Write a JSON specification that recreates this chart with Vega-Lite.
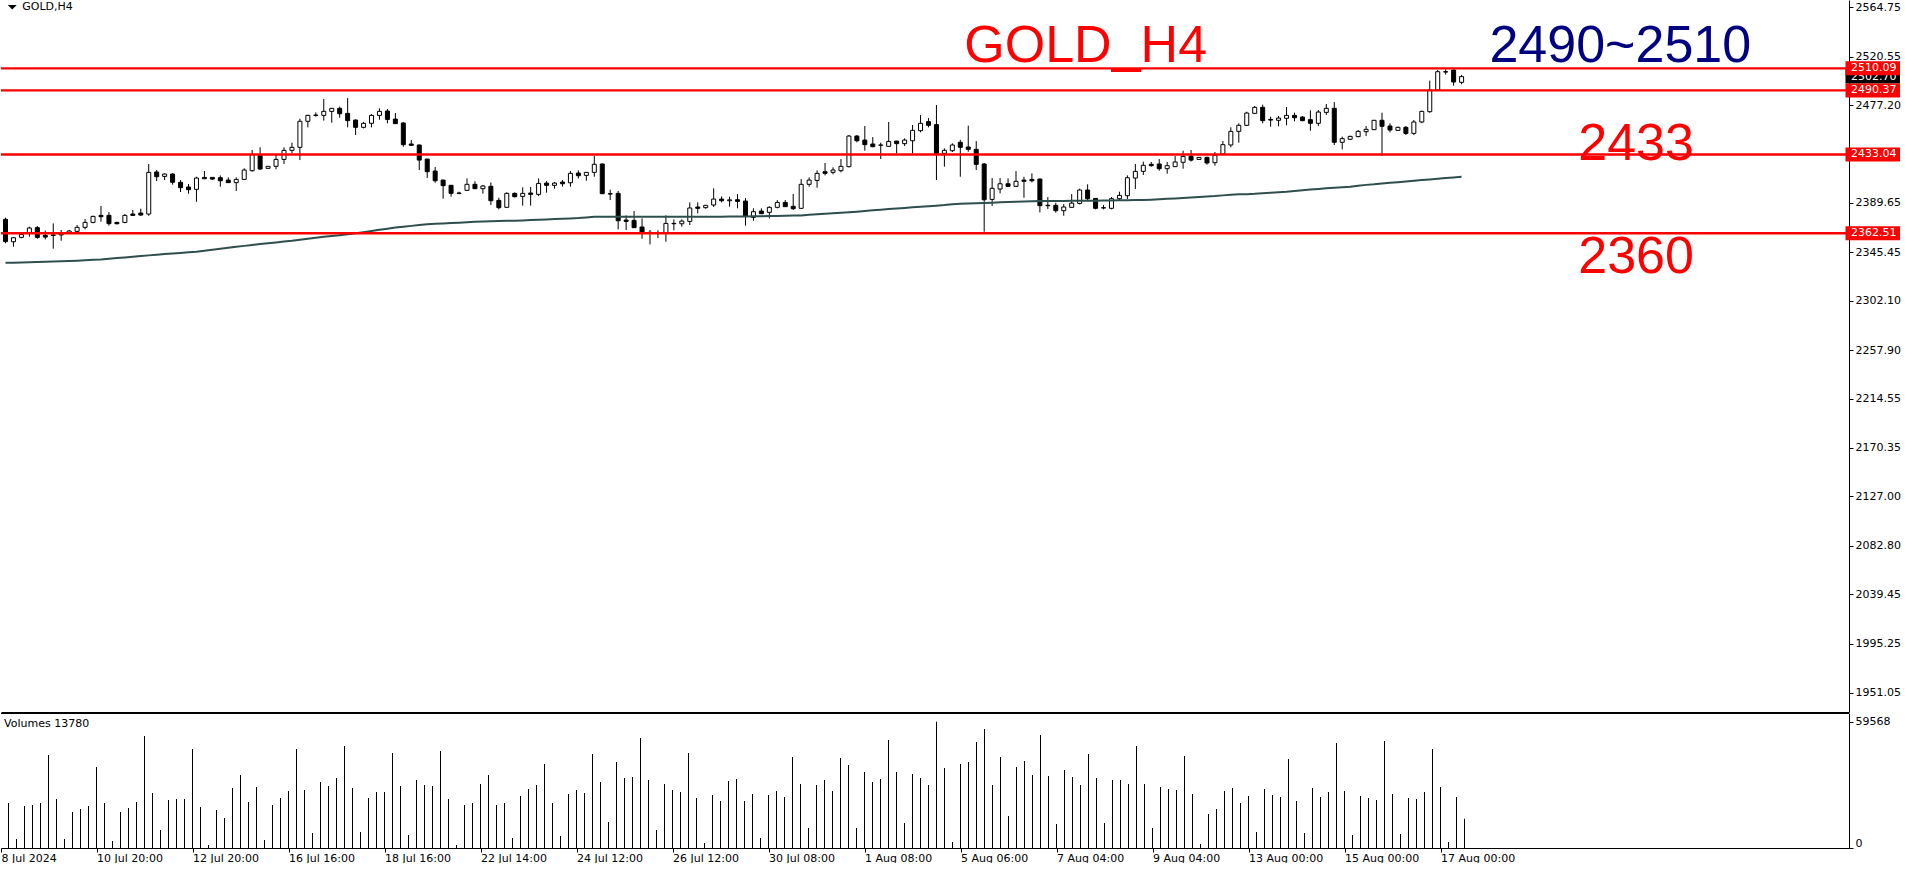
{
"$schema":"https://vega.github.io/schema/vega-lite/v6.json",
"padding":0,
"background":"#ffffff",
"spacing":1,
"config":{"view":{"stroke":null},"axis":{"labelFont":"DejaVu Sans","labelFontSize":11,"labelColor":"#000000","domainColor":"#000000","tickColor":"#000000","grid":false,"labelOverlap":false}},
"datasets":{
"bars":[
{"i":0,"o":2375.0,"h":2376.5,"l":2353.5,"c":2355.0,"ma":2336.1},
{"i":1,"o":2354.9,"h":2359.0,"l":2350.5,"c":2358.5,"v":21222,"ma":2336.2},
{"i":2,"o":2358.8,"h":2363.0,"l":2358.0,"c":2361.5,"v":4244,"ma":2336.4},
{"i":3,"o":2363.0,"h":2368.4,"l":2359.4,"c":2367.2,"v":19807,"ma":2336.6},
{"i":4,"o":2367.5,"h":2369.0,"l":2357.6,"c":2358.8,"v":20279,"ma":2336.8},
{"i":5,"o":2360.6,"h":2364.8,"l":2357.0,"c":2359.1,"v":21222,"ma":2337.0},
{"i":6,"o":2360.5,"h":2371.3,"l":2348.7,"c":2361.0,"v":43859,"ma":2337.2},
{"i":7,"o":2361.0,"h":2365.4,"l":2355.8,"c":2362.0,"v":23108,"ma":2337.4},
{"i":8,"o":2363.0,"h":2365.5,"l":2362.0,"c":2364.5,"v":4244,"ma":2337.6},
{"i":9,"o":2364.2,"h":2369.9,"l":2363.0,"c":2367.8,"v":16978,"ma":2337.9},
{"i":10,"o":2367.8,"h":2375.2,"l":2366.0,"c":2372.2,"v":18392,"ma":2338.3},
{"i":11,"o":2372.2,"h":2378.2,"l":2371.4,"c":2377.6,"v":19807,"ma":2338.7},
{"i":12,"o":2378.5,"h":2386.9,"l":2372.8,"c":2377.3,"v":38200,"ma":2339.1},
{"i":13,"o":2378.5,"h":2381.5,"l":2369.3,"c":2371.1,"v":21222,"ma":2339.7},
{"i":14,"o":2372.2,"h":2372.8,"l":2370.5,"c":2371.0,"v":3301,"ma":2340.3},
{"i":15,"o":2372.2,"h":2379.7,"l":2371.4,"c":2378.5,"v":16978,"ma":2340.9},
{"i":16,"o":2379.7,"h":2383.3,"l":2378.2,"c":2378.5,"v":18864,"ma":2341.5},
{"i":17,"o":2380.6,"h":2384.5,"l":2378.2,"c":2378.8,"v":21694,"ma":2342.1},
{"i":18,"o":2379.7,"h":2424.5,"l":2378.2,"c":2417.0,"v":52819,"ma":2342.7},
{"i":19,"o":2417.3,"h":2419.1,"l":2409.2,"c":2413.1,"v":25938,"ma":2343.3},
{"i":20,"o":2413.4,"h":2416.1,"l":2410.1,"c":2415.5,"v":8489,"ma":2343.9},
{"i":21,"o":2415.5,"h":2416.1,"l":2406.0,"c":2408.1,"v":22637,"ma":2344.4},
{"i":22,"o":2408.1,"h":2410.1,"l":2399.4,"c":2403.3,"v":23108,"ma":2344.9},
{"i":23,"o":2403.9,"h":2406.6,"l":2397.9,"c":2401.5,"v":23108,"ma":2345.5},
{"i":24,"o":2401.8,"h":2413.1,"l":2390.7,"c":2411.9,"v":46688,"ma":2346.0},
{"i":25,"o":2412.5,"h":2418.2,"l":2411.0,"c":2411.3,"v":19336,"ma":2346.9},
{"i":26,"o":2412.5,"h":2412.8,"l":2410.1,"c":2411.0,"v":1415,"ma":2347.8},
{"i":27,"o":2412.2,"h":2414.3,"l":2404.2,"c":2409.5,"v":17921,"ma":2348.7},
{"i":28,"o":2410.1,"h":2412.5,"l":2407.5,"c":2407.8,"v":14148,"ma":2349.6},
{"i":29,"o":2407.8,"h":2412.5,"l":2400.3,"c":2410.7,"v":28296,"ma":2350.4},
{"i":30,"o":2410.7,"h":2420.6,"l":2410.1,"c":2419.1,"v":34427,"ma":2351.2},
{"i":31,"o":2418.5,"h":2437.0,"l":2417.6,"c":2433.1,"v":21694,"ma":2352.0},
{"i":32,"o":2431.9,"h":2439.4,"l":2419.1,"c":2420.0,"v":28768,"ma":2352.8},
{"i":33,"o":2420.6,"h":2422.6,"l":2420.4,"c":2422.4,"v":3773,"ma":2353.6},
{"i":34,"o":2422.4,"h":2433.1,"l":2419.7,"c":2428.6,"v":20279,"ma":2354.3},
{"i":35,"o":2428.6,"h":2439.4,"l":2424.5,"c":2436.7,"v":23580,"ma":2355.1},
{"i":36,"o":2436.7,"h":2443.6,"l":2434.0,"c":2439.4,"v":26881,"ma":2355.8},
{"i":37,"o":2439.4,"h":2465.0,"l":2428.0,"c":2462.7,"v":46688,"ma":2356.7},
{"i":38,"o":2462.7,"h":2468.6,"l":2457.3,"c":2468.0,"v":27353,"ma":2357.6},
{"i":39,"o":2468.0,"h":2470.7,"l":2466.8,"c":2468.3,"v":7074,"ma":2358.5},
{"i":40,"o":2468.0,"h":2482.6,"l":2463.3,"c":2471.6,"v":31126,"ma":2359.4},
{"i":41,"o":2471.6,"h":2474.6,"l":2461.5,"c":2474.3,"v":29239,"ma":2360.1},
{"i":42,"o":2474.3,"h":2475.8,"l":2465.9,"c":2469.5,"v":33012,"ma":2360.8},
{"i":43,"o":2469.8,"h":2483.5,"l":2457.3,"c":2463.3,"v":48103,"ma":2361.5},
{"i":44,"o":2463.8,"h":2464.4,"l":2450.4,"c":2457.3,"v":28296,"ma":2362.5},
{"i":45,"o":2457.3,"h":2462.1,"l":2456.4,"c":2460.9,"v":7546,"ma":2363.5},
{"i":46,"o":2460.9,"h":2469.2,"l":2457.3,"c":2468.0,"v":23580,"ma":2364.5},
{"i":47,"o":2468.0,"h":2474.3,"l":2464.1,"c":2471.6,"v":26410,"ma":2365.6},
{"i":48,"o":2471.9,"h":2473.7,"l":2460.9,"c":2464.4,"v":26410,"ma":2366.6},
{"i":49,"o":2464.7,"h":2470.1,"l":2460.3,"c":2460.6,"v":44802,"ma":2367.6},
{"i":50,"o":2461.2,"h":2461.8,"l":2440.0,"c":2441.8,"v":29239,"ma":2368.4},
{"i":51,"o":2442.4,"h":2446.0,"l":2441.0,"c":2441.2,"v":6131,"ma":2369.1},
{"i":52,"o":2441.5,"h":2441.8,"l":2419.1,"c":2428.0,"v":32069,"ma":2369.9},
{"i":53,"o":2428.9,"h":2429.0,"l":2412.0,"c":2417.6,"v":29711,"ma":2370.6},
{"i":54,"o":2418.2,"h":2421.8,"l":2407.7,"c":2409.5,"v":29239,"ma":2371.0},
{"i":55,"o":2410.1,"h":2410.4,"l":2393.4,"c":2405.1,"v":45745,"ma":2371.3},
{"i":56,"o":2405.4,"h":2405.7,"l":2395.2,"c":2398.2,"v":23108,"ma":2371.7},
{"i":57,"o":2398.2,"h":2399.7,"l":2397.3,"c":2398.5,"v":1415,"ma":2372.0},
{"i":58,"o":2400.9,"h":2411.6,"l":2400.3,"c":2406.3,"v":20279,"ma":2372.4},
{"i":59,"o":2406.3,"h":2409.0,"l":2402.0,"c":2402.4,"v":21222,"ma":2372.8},
{"i":60,"o":2402.4,"h":2405.7,"l":2397.9,"c":2404.8,"v":30182,"ma":2373.0},
{"i":61,"o":2404.5,"h":2408.0,"l":2387.8,"c":2391.6,"v":34427,"ma":2373.2},
{"i":62,"o":2391.9,"h":2394.3,"l":2383.9,"c":2385.4,"v":20279,"ma":2373.4},
{"i":63,"o":2385.7,"h":2399.1,"l":2385.4,"c":2398.2,"v":21222,"ma":2373.6},
{"i":64,"o":2398.2,"h":2399.1,"l":2394.6,"c":2395.2,"v":4716,"ma":2373.8},
{"i":65,"o":2395.5,"h":2403.6,"l":2387.2,"c":2398.2,"v":24523,"ma":2374.0},
{"i":66,"o":2398.5,"h":2403.9,"l":2387.2,"c":2397.3,"v":27824,"ma":2374.3},
{"i":67,"o":2397.3,"h":2411.6,"l":2395.8,"c":2407.1,"v":29711,"ma":2374.6},
{"i":68,"o":2407.4,"h":2409.2,"l":2398.8,"c":2405.4,"v":39614,"ma":2374.9},
{"i":69,"o":2405.4,"h":2408.3,"l":2402.4,"c":2407.4,"v":21222,"ma":2375.2},
{"i":70,"o":2408.3,"h":2410.1,"l":2404.2,"c":2406.8,"v":5659,"ma":2375.5},
{"i":71,"o":2407.7,"h":2418.2,"l":2404.2,"c":2416.1,"v":25466,"ma":2375.8},
{"i":72,"o":2416.4,"h":2418.8,"l":2411.6,"c":2414.0,"v":27353,"ma":2376.1},
{"i":73,"o":2414.3,"h":2417.3,"l":2409.5,"c":2417.0,"v":25938,"ma":2376.7},
{"i":74,"o":2417.0,"h":2431.6,"l":2413.1,"c":2424.2,"v":44330,"ma":2377.2},
{"i":75,"o":2424.5,"h":2424.8,"l":2397.6,"c":2397.9,"v":31126,"ma":2377.3},
{"i":76,"o":2397.9,"h":2401.5,"l":2392.2,"c":2397.6,"v":12262,"ma":2377.3},
{"i":77,"o":2398.2,"h":2400.3,"l":2366.0,"c":2373.7,"v":40558,"ma":2377.3},
{"i":78,"o":2374.3,"h":2378.5,"l":2365.4,"c":2373.1,"v":33012,"ma":2377.3},
{"i":79,"o":2374.0,"h":2382.4,"l":2367.2,"c":2367.5,"v":33484,"ma":2377.3},
{"i":80,"o":2368.1,"h":2375.8,"l":2357.6,"c":2363.0,"v":51876,"ma":2377.3},
{"i":81,"o":2363.3,"h":2365.4,"l":2352.5,"c":2362.7,"v":32069,"ma":2377.3},
{"i":82,"o":2362.7,"h":2365.1,"l":2358.2,"c":2362.4,"v":8489,"ma":2377.3},
{"i":83,"o":2362.4,"h":2378.5,"l":2354.9,"c":2371.3,"v":30182,"ma":2377.3},
{"i":84,"o":2371.3,"h":2374.9,"l":2365.1,"c":2371.0,"v":27353,"ma":2377.3},
{"i":85,"o":2371.0,"h":2374.9,"l":2368.4,"c":2373.4,"v":26410,"ma":2377.3},
{"i":86,"o":2373.1,"h":2390.1,"l":2369.9,"c":2385.1,"v":44802,"ma":2377.3},
{"i":87,"o":2386.0,"h":2390.1,"l":2380.3,"c":2384.8,"v":23580,"ma":2377.3},
{"i":88,"o":2385.4,"h":2387.8,"l":2384.5,"c":2387.5,"v":2358,"ma":2377.3},
{"i":89,"o":2387.8,"h":2402.7,"l":2386.0,"c":2393.1,"v":24995,"ma":2377.3},
{"i":90,"o":2393.1,"h":2395.5,"l":2390.1,"c":2391.6,"v":22165,"ma":2377.3},
{"i":91,"o":2391.6,"h":2395.2,"l":2386.3,"c":2392.4,"v":31597,"ma":2377.4},
{"i":92,"o":2392.5,"h":2397.6,"l":2384.8,"c":2391.0,"v":32540,"ma":2377.5},
{"i":93,"o":2391.3,"h":2394.0,"l":2369.3,"c":2377.9,"v":22165,"ma":2377.6},
{"i":94,"o":2376.7,"h":2384.8,"l":2373.7,"c":2381.8,"v":25466,"ma":2377.7},
{"i":95,"o":2382.4,"h":2384.8,"l":2379.7,"c":2380.0,"v":4716,"ma":2377.8},
{"i":96,"o":2381.2,"h":2386.6,"l":2375.8,"c":2385.7,"v":24995,"ma":2377.9},
{"i":97,"o":2385.7,"h":2392.2,"l":2384.8,"c":2390.1,"v":26881,"ma":2378.0},
{"i":98,"o":2390.1,"h":2392.2,"l":2386.0,"c":2386.3,"v":24052,"ma":2378.2},
{"i":99,"o":2386.6,"h":2397.6,"l":2383.3,"c":2384.5,"v":42916,"ma":2378.3},
{"i":100,"o":2384.8,"h":2411.0,"l":2384.5,"c":2406.3,"v":30182,"ma":2378.5},
{"i":101,"o":2406.3,"h":2412.5,"l":2404.2,"c":2410.1,"v":9432,"ma":2379.0},
{"i":102,"o":2409.8,"h":2418.8,"l":2403.3,"c":2416.1,"v":29711,"ma":2379.4},
{"i":103,"o":2417.6,"h":2425.4,"l":2414.3,"c":2416.1,"v":32069,"ma":2379.9},
{"i":104,"o":2417.0,"h":2421.5,"l":2415.2,"c":2419.1,"v":26881,"ma":2380.4},
{"i":105,"o":2418.5,"h":2428.9,"l":2417.0,"c":2422.4,"v":42444,"ma":2380.9},
{"i":106,"o":2422.1,"h":2450.4,"l":2421.5,"c":2449.5,"v":39143,"ma":2381.3},
{"i":107,"o":2449.5,"h":2450.4,"l":2443.9,"c":2445.3,"v":9432,"ma":2381.8},
{"i":108,"o":2445.9,"h":2458.5,"l":2436.4,"c":2441.8,"v":35842,"ma":2382.4},
{"i":109,"o":2442.4,"h":2448.6,"l":2439.4,"c":2440.0,"v":31126,"ma":2383.0},
{"i":110,"o":2441.2,"h":2443.6,"l":2428.9,"c":2441.5,"v":32540,"ma":2383.5},
{"i":111,"o":2440.3,"h":2462.1,"l":2440.0,"c":2444.7,"v":50933,"ma":2384.1},
{"i":112,"o":2445.0,"h":2445.3,"l":2434.0,"c":2442.7,"v":35842,"ma":2384.6},
{"i":113,"o":2442.7,"h":2447.4,"l":2440.6,"c":2445.9,"v":11790,"ma":2385.2},
{"i":114,"o":2445.3,"h":2459.4,"l":2434.0,"c":2454.6,"v":34898,"ma":2385.7},
{"i":115,"o":2454.3,"h":2468.3,"l":2452.8,"c":2460.9,"v":33012,"ma":2386.2},
{"i":116,"o":2462.4,"h":2465.6,"l":2457.3,"c":2459.1,"v":29711,"ma":2386.7},
{"i":117,"o":2459.7,"h":2477.3,"l":2410.1,"c":2434.0,"v":59568,"ma":2387.2},
{"i":118,"o":2434.0,"h":2438.5,"l":2422.1,"c":2436.7,"v":37728,"ma":2387.7},
{"i":119,"o":2436.4,"h":2443.0,"l":2435.2,"c":2441.5,"v":2830,"ma":2388.5},
{"i":120,"o":2443.9,"h":2446.2,"l":2413.1,"c":2439.4,"v":39614,"ma":2388.8},
{"i":121,"o":2439.7,"h":2458.8,"l":2435.5,"c":2437.6,"v":40558,"ma":2389.1},
{"i":122,"o":2437.6,"h":2445.0,"l":2419.1,"c":2424.2,"v":49990,"ma":2389.4},
{"i":123,"o":2424.5,"h":2425.4,"l":2363.9,"c":2392.5,"v":56120,"ma":2389.6},
{"i":124,"o":2392.8,"h":2411.9,"l":2386.9,"c":2402.7,"v":29711,"ma":2389.9},
{"i":125,"o":2402.1,"h":2411.9,"l":2398.2,"c":2406.8,"v":42916,"ma":2390.2},
{"i":126,"o":2406.8,"h":2411.6,"l":2404.2,"c":2404.5,"v":15091,"ma":2390.5},
{"i":127,"o":2404.5,"h":2418.2,"l":2404.2,"c":2409.0,"v":38200,"ma":2390.7},
{"i":128,"o":2410.1,"h":2413.1,"l":2394.3,"c":2409.0,"v":41029,"ma":2391.0},
{"i":129,"o":2410.7,"h":2416.1,"l":2408.0,"c":2409.5,"v":34427,"ma":2391.2},
{"i":130,"o":2411.0,"h":2411.6,"l":2381.2,"c":2387.2,"v":53291,"ma":2391.3},
{"i":131,"o":2387.2,"h":2394.9,"l":2384.2,"c":2387.5,"v":33955,"ma":2391.3},
{"i":132,"o":2387.5,"h":2389.8,"l":2380.9,"c":2382.7,"v":11318,"ma":2391.4},
{"i":133,"o":2382.7,"h":2388.7,"l":2378.2,"c":2386.0,"v":36785,"ma":2391.4},
{"i":134,"o":2385.7,"h":2397.6,"l":2385.4,"c":2389.5,"v":33484,"ma":2391.5},
{"i":135,"o":2389.2,"h":2402.4,"l":2388.3,"c":2401.2,"v":29711,"ma":2391.5},
{"i":136,"o":2401.2,"h":2406.3,"l":2391.6,"c":2393.4,"v":44330,"ma":2391.6},
{"i":137,"o":2393.7,"h":2394.0,"l":2383.9,"c":2384.8,"v":33012,"ma":2391.7},
{"i":138,"o":2385.1,"h":2387.8,"l":2383.9,"c":2385.4,"v":11790,"ma":2391.8},
{"i":139,"o":2384.8,"h":2394.9,"l":2383.9,"c":2393.4,"v":32069,"ma":2391.9},
{"i":140,"o":2393.4,"h":2399.7,"l":2392.2,"c":2396.4,"v":32069,"ma":2392.0},
{"i":141,"o":2396.1,"h":2414.3,"l":2393.1,"c":2412.2,"v":30182,"ma":2392.1},
{"i":142,"o":2411.9,"h":2424.5,"l":2402.1,"c":2417.9,"v":48103,"ma":2392.2},
{"i":143,"o":2417.9,"h":2426.6,"l":2414.6,"c":2423.3,"v":30182,"ma":2392.2},
{"i":144,"o":2424.2,"h":2426.3,"l":2422.1,"c":2423.0,"v":9432,"ma":2392.5},
{"i":145,"o":2424.5,"h":2428.9,"l":2418.5,"c":2420.3,"v":28768,"ma":2392.9},
{"i":146,"o":2420.3,"h":2426.3,"l":2415.8,"c":2423.0,"v":27824,"ma":2393.3},
{"i":147,"o":2422.1,"h":2431.6,"l":2422.0,"c":2426.3,"v":27353,"ma":2393.6},
{"i":148,"o":2426.0,"h":2436.4,"l":2420.3,"c":2431.3,"v":43387,"ma":2394.0},
{"i":149,"o":2431.3,"h":2437.0,"l":2426.6,"c":2428.0,"v":25466,"ma":2394.5},
{"i":150,"o":2428.6,"h":2430.6,"l":2428.4,"c":2430.4,"v":1886,"ma":2395.0},
{"i":151,"o":2430.4,"h":2431.0,"l":2423.9,"c":2425.4,"v":16034,"ma":2395.4},
{"i":152,"o":2425.7,"h":2435.2,"l":2423.0,"c":2432.2,"v":18392,"ma":2395.8},
{"i":153,"o":2433.4,"h":2445.0,"l":2433.0,"c":2441.8,"v":26881,"ma":2396.4},
{"i":154,"o":2441.5,"h":2457.3,"l":2439.4,"c":2453.7,"v":28296,"ma":2396.9},
{"i":155,"o":2453.7,"h":2460.9,"l":2443.6,"c":2459.1,"v":21222,"ma":2397.3},
{"i":156,"o":2459.1,"h":2471.3,"l":2458.5,"c":2470.1,"v":24523,"ma":2397.5},
{"i":157,"o":2469.8,"h":2476.4,"l":2469.6,"c":2475.2,"v":7546,"ma":2397.8},
{"i":158,"o":2475.2,"h":2477.6,"l":2460.9,"c":2463.3,"v":27824,"ma":2398.3},
{"i":159,"o":2464.4,"h":2466.8,"l":2457.9,"c":2463.8,"v":24995,"ma":2398.8},
{"i":160,"o":2463.6,"h":2467.4,"l":2458.2,"c":2465.6,"v":24052,"ma":2399.3},
{"i":161,"o":2465.4,"h":2475.5,"l":2459.1,"c":2468.0,"v":41972,"ma":2399.7},
{"i":162,"o":2468.0,"h":2470.4,"l":2462.7,"c":2465.9,"v":22165,"ma":2400.3},
{"i":163,"o":2466.5,"h":2467.4,"l":2462.7,"c":2463.3,"v":7074,"ma":2401.0},
{"i":164,"o":2464.2,"h":2472.5,"l":2454.3,"c":2460.9,"v":28296,"ma":2401.6},
{"i":165,"o":2460.9,"h":2472.8,"l":2458.5,"c":2471.0,"v":24052,"ma":2402.2},
{"i":166,"o":2470.7,"h":2478.2,"l":2468.3,"c":2474.3,"v":26410,"ma":2402.7},
{"i":167,"o":2474.3,"h":2480.0,"l":2441.5,"c":2443.9,"v":49518,"ma":2403.2},
{"i":168,"o":2443.9,"h":2449.0,"l":2437.6,"c":2447.2,"v":26881,"ma":2403.7},
{"i":169,"o":2446.6,"h":2449.8,"l":2446.0,"c":2449.2,"v":6131,"ma":2404.2},
{"i":170,"o":2449.0,"h":2454.9,"l":2448.4,"c":2453.7,"v":24523,"ma":2405.0},
{"i":171,"o":2453.4,"h":2458.5,"l":2449.5,"c":2455.5,"v":23580,"ma":2405.8},
{"i":172,"o":2455.2,"h":2463.9,"l":2454.9,"c":2463.6,"v":22637,"ma":2406.3},
{"i":173,"o":2463.6,"h":2470.4,"l":2431.6,"c":2458.2,"v":50461,"ma":2407.0},
{"i":174,"o":2458.5,"h":2460.9,"l":2452.8,"c":2454.9,"v":25466,"ma":2407.6},
{"i":175,"o":2454.6,"h":2457.9,"l":2454.0,"c":2457.3,"v":6602,"ma":2408.2},
{"i":176,"o":2457.3,"h":2458.5,"l":2450.4,"c":2451.9,"v":23580,"ma":2408.8},
{"i":177,"o":2451.9,"h":2463.9,"l":2450.4,"c":2462.1,"v":23108,"ma":2409.5},
{"i":178,"o":2462.1,"h":2472.2,"l":2460.9,"c":2471.6,"v":26410,"ma":2410.1},
{"i":179,"o":2471.3,"h":2499.1,"l":2470.4,"c":2490.7,"v":46688,"ma":2410.7},
{"i":180,"o":2490.7,"h":2508.6,"l":2490.4,"c":2507.1,"v":28768,"ma":2411.3},
{"i":181,"o":2507.1,"h":2509.2,"l":2504.5,"c":2506.8,"v":2830,"ma":2411.9},
{"i":182,"o":2508.6,"h":2509.2,"l":2494.6,"c":2497.9,"v":24052,"ma":2412.5},
{"i":183,"o":2497.6,"h":2504.2,"l":2495.8,"c":2502.7,"v":13780,"ma":2413.1}
],
"levels":[{"p":2510.09},{"p":2490.37},{"p":2433.04},{"p":2362.51}],
"one":[{"k":1}]
},
"vconcat":[
{"width":1848,"height":712,
"layer":[
{"data":{"name":"bars"},"mark":{"type":"rule","color":"#000000","strokeWidth":1,"clip":true},
"encoding":{
"x":{"field":"i","type":"quantitative","title":null,"scale":{"domain":[0.0625,231.0625],"nice":false,"zero":false},"axis":{"orient":"bottom","labels":false,"ticks":false,"domain":true}},
"y":{"field":"l","type":"quantitative","title":null,"scale":{"domain":[1933.98,2571.28],"nice":false,"zero":false},"axis":{"orient":"right","values":[1951.05,1995.25,2039.45,2082.8,2127.0,2170.35,2214.55,2257.9,2302.1,2345.45,2389.65,2477.2,2520.55,2564.75],"format":".2f","tickSize":4,"labelPadding":2}},
"y2":{"field":"h"}}},
{"data":{"name":"bars"},"mark":{"type":"bar","orient":"vertical","size":4,"stroke":"#000000","strokeWidth":1,"clip":true},
"encoding":{"x":{"field":"i","type":"quantitative","title":null},"y":{"field":"o","type":"quantitative","title":null},"y2":{"field":"c"},"fill":{"condition":{"test":"datum.c >= datum.o","value":"#ffffff"},"value":"#000000"}}},
{"data":{"name":"bars"},"mark":{"type":"line","color":"#2f4f4f","strokeWidth":2,"clip":true},
"encoding":{"x":{"field":"i","type":"quantitative","title":null},"y":{"field":"ma","type":"quantitative","title":null}}},
{"data":{"name":"levels"},"mark":{"type":"rule","color":"#ff0000","strokeWidth":2.4,"clip":true},
"encoding":{"y":{"field":"p","type":"quantitative","title":null}}},
{"data":{"name":"bars"},"transform":[{"filter":"datum.i === 183"}],"mark":{"type":"rule","color":"#000000","strokeWidth":14,"strokeCap":"butt"},
"encoding":{"x":{"datum":231.25},"x2":{"datum":238.1},"y":{"field":"c","type":"quantitative","title":null}}},
{"data":{"name":"bars"},"transform":[{"filter":"datum.i === 183"}],"mark":{"type":"text","align":"left","baseline":"middle","font":"DejaVu Sans","fontSize":11,"color":"#ffffff"},
"encoding":{"x":{"datum":231.94},"y":{"field":"c","type":"quantitative","title":null},"text":{"field":"c","type":"quantitative","format":".2f"}}},
{"data":{"name":"levels"},"mark":{"type":"rule","color":"#ff0000","strokeWidth":14,"strokeCap":"butt"},
"encoding":{"x":{"datum":231.25},"x2":{"datum":238.1},"y":{"field":"p","type":"quantitative","title":null}}},
{"data":{"name":"levels"},"mark":{"type":"text","align":"left","baseline":"middle","font":"DejaVu Sans","fontSize":11,"color":"#ffffff"},
"encoding":{"x":{"datum":231.94},"y":{"field":"p","type":"quantitative","title":null},"text":{"field":"p","type":"quantitative","format":".2f"}}},
{"data":{"name":"one"},"mark":{"type":"text","text":"GOLD_H4","align":"left","baseline":"alphabetic","font":"Liberation Sans","fontSize":52,"color":"#ff0000"},
"encoding":{"x":{"datum":120.5},"y":{"datum":2516.0}}},
{"data":{"name":"one"},"mark":{"type":"text","text":"2490~2510","align":"left","baseline":"alphabetic","font":"Liberation Sans","fontSize":52,"color":"#000080"},
"encoding":{"x":{"datum":186.5},"y":{"datum":2515.8}}},
{"data":{"name":"one"},"mark":{"type":"text","text":"2433","align":"left","baseline":"alphabetic","font":"Liberation Sans","fontSize":52,"color":"#ff0000"},
"encoding":{"x":{"datum":197.66},"y":{"datum":2428.07}}},
{"data":{"name":"one"},"mark":{"type":"text","text":"2360","align":"left","baseline":"alphabetic","font":"Liberation Sans","fontSize":52,"color":"#ff0000"},
"encoding":{"x":{"datum":197.66},"y":{"datum":2326.65}}},
{"data":{"name":"one"},"mark":{"type":"point","shape":"M-1,-0.5L1,-0.5L0,0.5Z","size":81,"filled":true,"color":"#000000","opacity":1,"strokeWidth":0},
"encoding":{"x":{"datum":0.85},"y":{"datum":2564.9}}},
{"data":{"name":"one"},"mark":{"type":"text","text":"GOLD,H4","align":"left","baseline":"middle","font":"DejaVu Sans","fontSize":11,"color":"#000000"},
"encoding":{"x":{"datum":2.1},"y":{"datum":2564.75}}}
]},
{"width":1848,"height":135,
"layer":[
{"data":{"name":"bars"},"mark":{"type":"rule","color":"#000000","strokeWidth":1,"clip":true},
"encoding":{
"x":{"field":"i","type":"quantitative","title":null,"scale":{"domain":[0.0625,231.0625],"nice":false,"zero":false},"axis":{"orient":"bottom","values":[0.07,12,24,36,48,60,72,84,96,108,120,132,144,156,168,180],"labelExpr":"['8 Jul 2024','10 Jul 20:00','12 Jul 20:00','16 Jul 16:00','18 Jul 16:00','22 Jul 14:00','24 Jul 12:00','26 Jul 12:00','30 Jul 08:00','1 Aug 08:00','5 Aug 06:00','7 Aug 04:00','9 Aug 04:00','13 Aug 00:00','15 Aug 00:00','17 Aug 00:00'][round(datum.value/12)]","labelAlign":"left","labelBaseline":"top","tickSize":4,"labelPadding":0,"labelFlush":false}},
"y":{"field":"v","type":"quantitative","title":null,"scale":{"domain":[0,63672],"nice":false},"axis":{"orient":"right","values":[0,59568],"format":"d","tickSize":4,"labelPadding":2,"labelBaseline":{"condition":{"test":"datum.value === 0","value":"bottom"},"value":"middle"}}},
"y2":{"datum":0}}},
{"data":{"name":"one"},"mark":{"type":"rule","color":"#000000","strokeWidth":1,"clip":true},"encoding":{"y":{"datum":63436}}},
{"data":{"name":"one"},"mark":{"type":"text","text":"Volumes 13780","align":"left","baseline":"middle","font":"DejaVu Sans","fontSize":11,"color":"#000000"},
"encoding":{"x":{"datum":0.45},"y":{"datum":58485}}}
]}
]
}
